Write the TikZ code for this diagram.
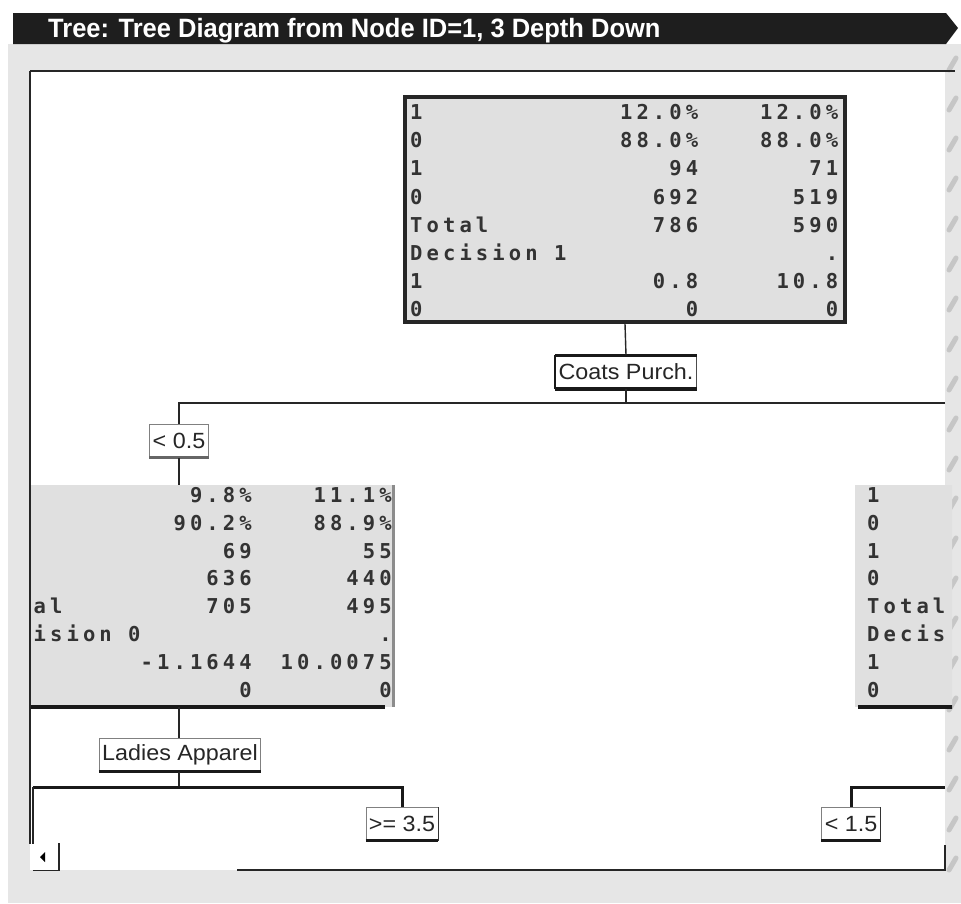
\documentclass[tikz,border=0pt]{standalone}
\usepackage{fontspec}
\usepackage{graphicx}
\setmainfont{Liberation Sans}
\newfontfamily\datafont[LetterSpace=20]{DejaVu Sans Mono}
\definecolor{bggray}{HTML}{E6E6E6}
\definecolor{boxgray}{HTML}{E0E0E0}
\definecolor{titlebg}{HTML}{1E1E1E}
\newcommand{\drow}[5]{\makebox[#1][l]{#3}\makebox[#2][r]{#4}\makebox[140pt][r]{#5}}
\newcommand{\lbltext}[1]{\scalebox{1.06}[1]{\fontsize{22}{22}\selectfont #1}}
\tikzset{
  cell/.style={anchor=base west, inner sep=0pt, text=black!80, font=\datafont\bfseries\fontsize{20.5}{24}\selectfont},
  lbl/.style={draw=black!70, line width=0.8pt, fill=white, text=black!85, inner xsep=3pt, inner ysep=0pt, minimum height=33pt},
  conn/.style={line width=1.4pt, black!85},
  heavy/.style={line width=3pt, black!90},
  curl/.style={gray!45, line width=5pt, line cap=round},
}
\begin{document}
\begin{tikzpicture}[x=1pt,y=-1pt]
\useasboundingbox (0,0) rectangle (961,903);
% background
\fill[white] (0,0) rectangle (961,903);
\fill[bggray] (8,44) rectangle (961,903);
\fill[white] (30,71) rectangle (945,870);
% title bar
\fill[titlebg] (13,13) -- (946,13) -- (958,28) -- (946,44) -- (13,44) -- cycle;
\node[anchor=base west, text=white, inner sep=0pt] (title) at (48,37.5)
  {\scalebox{1.0}[1.04]{\bfseries\fontsize{25.5}{25.5}\selectfont Tree: Tree Diagram from Node ID=1, 3 Depth Down}};
% page curl marks
\foreach \yy in {62,102,...,890}
  \draw[curl] (949,\yy+8) -- (956,\yy-4);
% panel frame
\draw[line width=1.5pt, black!85] (30,71) -- (955,71);
\draw[line width=1.5pt, black!85] (30,71) -- (30,844);

% top data box
\node[draw=black!85, line width=3.5pt, fill=boxgray, minimum width=440pt, minimum height=225pt, inner sep=0pt] (tbox) at (625,209.5) {};
\foreach \a/\b/\c [count=\i] in {1/12.0\%/12.0\%, 0/88.0\%/88.0\%, 1/94/71, 0/692/519, Total/786/590, Decision 1//., 1/0.8/10.8, 0/0/0}
  \node[cell] (tr\i) at (410,{119.5+28.2*(\i-1)}) {\drow{150pt}{138pt}{\a}{\b}{\c}};

% split label
\node[lbl] (coats) at (626,372) {\lbltext{Coats Purch.}};
\draw[heavy] (coats.north west) -- (coats.north east);
\draw[line width=4pt, black!90] (coats.south west) -- (coats.south east);
\draw[line width=2.5pt, black!90] (coats.north west) -- (coats.south west);
\coordinate (j1) at (626,403);
\coordinate (r1) at (945,403);
\draw[conn] (tbox.south) -- (coats.north);
\draw[conn] (coats.south) -- (j1);

\node[lbl, draw=black!50] (lt05) at (179,441) {\lbltext{< 0.5}};
\draw[heavy, black!60] (lt05.south west) -- (lt05.south east);
\draw[conn, line width=1.8pt] (r1) -| (lt05.north);

% left data box (clipped)
\begin{scope}
\clip (31,470) rectangle (400,720);
\node[fill=boxgray, minimum width=420pt, minimum height=222pt, inner sep=0pt] (lbox) at (183,596) {};
\draw[line width=3pt, black!45] (lbox.north east) -- (lbox.south east);
\draw[line width=4pt, black!90] (lbox.south west) -- ([xshift=-8pt]lbox.south east);
\end{scope}
\foreach \a/\b/\c [count=\i] in {/9.8\%/11.1\%, /90.2\%/88.9\%, /69/55, /636/440, al/705/495, ision 0//., /-1.1644/10.0075, /0/0}
  \node[cell] (lr\i) at (33.5,{502.5+27.8*(\i-1)}) {\drow{100pt}{118pt}{\a}{\b}{\c}};
\draw[conn] (lt05.south) -- (lt05.south |- lbox.north);

% right data box (clipped)
\begin{scope}
\clip (850,470) rectangle (952,720);
\node[fill=boxgray, minimum width=200pt, minimum height=222pt, inner sep=0pt] (rbox) at (955,596) {};
\draw[line width=4pt, black!90] ([xshift=3pt]rbox.south west) -- ([xshift=-50pt]rbox.south east);
\end{scope}
\foreach \a [count=\i] in {1, 0, 1, 0, Total, Decis, 1, 0}
  \node[cell] (rr\i) at (867,{502.5+27.8*(\i-1)}) {\a};

% second level split
\node[lbl, draw=black!50] (ladies) at (180,755) {\lbltext{Ladies Apparel}};
\draw[heavy] (ladies.south west) -- (ladies.south east);
\draw[conn] (lbox.south -| lt05.south) -- (lt05.south |- ladies.north);
\coordinate (jl) at (179,787);
\coordinate (ll) at (33,787);
\coordinate (lld) at (33,844);
\draw[conn] (lt05.south |- ladies.south) -- (jl);
\node[lbl, draw=black!50] (ge35) at (402,824) {\lbltext{>= 3.5}};
\draw[heavy] (ge35.south west) -- (ge35.south east);
\draw[line width=1.5pt, black!80] (ge35.north east) -- (ge35.south east);
\draw[heavy] (ll) -| (ge35.north);
\draw[conn] (ll) -- (lld);

\coordinate (rr) at (945,787);
\node[lbl, draw=black!50] (lt15) at (851,824) {\lbltext{< 1.5}};
\draw[heavy] (lt15.south west) -- (lt15.south east);
\draw[line width=1.5pt, black!80] (lt15.north east) -- (lt15.south east);
\draw[heavy] (rr) -| (lt15.north);

% scroll bar
\node[minimum width=26pt, minimum height=27pt, inner sep=0pt] (scrl) at (46,857) {};
\draw[line width=1.5pt, black!85] (scrl.south west) -- (scrl.south east) -- (scrl.north east);
\fill[black] ([xshift=-6pt]scrl.center) -- ([xshift=-1pt,yshift=5pt]scrl.center) -- ([xshift=-1pt,yshift=-5pt]scrl.center) -- cycle;
\coordinate (sb1) at (237,870);
\coordinate (sb2) at (945,870);
\coordinate (sb3) at (945,845);
\draw[line width=1.5pt, black!85] (sb1) -- (sb2) -- (sb3);
\end{tikzpicture}
\end{document}
